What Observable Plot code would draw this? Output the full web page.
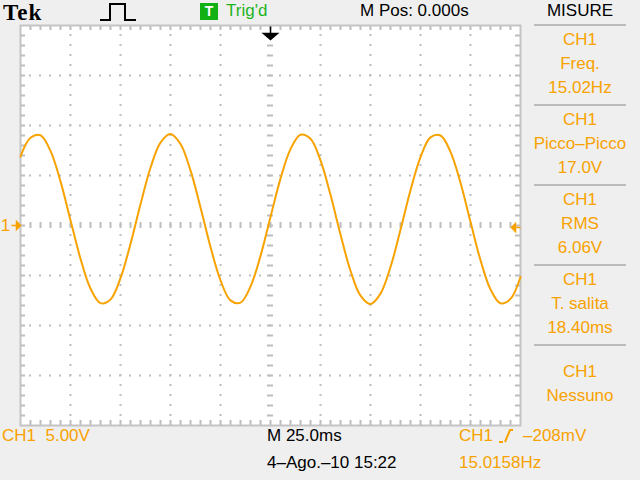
<!DOCTYPE html>
<html><head><meta charset="utf-8">
<script src="https://cdn.jsdelivr.net/npm/d3@7"></script>
<script src="https://cdn.jsdelivr.net/npm/@observablehq/plot@0.6"></script>
<style>
body{margin:0;background:#efefef;}
#wrap{position:relative;width:640px;height:480px;overflow:hidden;background:#efefef;font-family:"Liberation Sans",Arial,sans-serif;font-size:17px;color:#000;}
#wrap svg{position:absolute;left:0;top:0;}
.t{position:absolute;line-height:20px;white-space:pre;}
.o{color:#f8a200}
.c{left:520px;width:120px;text-align:center}
.sep{position:absolute;left:534px;width:92px;height:2px;background:#bcbcbc}
</style></head><body><div id="wrap"></div>
<script>
const timeMs = [-125,-120,-115,-110,-105,-100,-95,-90,-85,-80,-75,-70,-65,-60,-55,-50,-45,-40,-35,-30,-25,-20,-15,-10,-5,0,5,10,15,20,25,30,35,40,45,50,55,60,65,70,75,80,85,90,95,100,105,110,115,120,125];
const volts = [6.9,8.77,9.03,7.46,4.41,0.53,-3.32,-6.30,-7.76,-7.39,-5.26,-1.84,2.12,5.77,8.29,9.15,8.15,5.51,1.81,-2.14,-5.48,-7.49,-7.72,-6.11,-3.04,0.85,4.69,7.64,9.08,8.67,6.51,3.07,-0.90,-4.53,-7.02,-7.85,-6.81,-4.15,-0.43,3.52,6.84,8.81,9.00,7.37,4.27,0.37,-3.46,-6.39,-7.78,-7.34,-5.15];
const divTimes = [-100,-75,-50,-25,25,50,75,100];
const divVolts = [-15,-10,-5,5,10,15];
const triggerLevelV = -0.208;
const measures = [
  ["CH1","Freq.","15.02Hz"],
  ["CH1","Picco\u2013Picco","17.0V"],
  ["CH1","RMS","6.06V"],
  ["CH1","T. salita","18.40ms"],
  ["CH1","Nessuno"]
];
const headerTexts = {tek:"Tek", trig:"Trig'd", mpos:"M Pos: 0.000s", panel:"MISURE"};
const footerTexts = {ch:"CH1  5.00V", tb:"M 25.0ms", date:"4\u2013Ago.\u201310 15:22", trigCh:"CH1", trigLvl:"\u2013208mV", freq:"15.0158Hz"};

const orange = "#f8a200";
const gridCol = "#bdbdbd";
const trace = timeMs.map((t,i)=>({t, v: volts[i]}));
const minorT = d3.range(-120, 121, 5);
const minorV = d3.range(-19, 20, 1);

const downArrow = {draw(ctx){ctx.moveTo(0,0);ctx.lineTo(0,8);ctx.moveTo(-7,7);ctx.lineTo(7,7);ctx.lineTo(0,13);ctx.closePath();}};
const rightArrow = {draw(ctx){ctx.moveTo(-5,0);ctx.lineTo(0,0);ctx.moveTo(0,-4);ctx.lineTo(4,0);ctx.lineTo(0,4);ctx.closePath();}};
const leftArrow = {draw(ctx){ctx.moveTo(5,0);ctx.lineTo(0,0);ctx.moveTo(0,-4);ctx.lineTo(-4,0);ctx.lineTo(0,4);ctx.closePath();}};

const chart = Plot.plot({
  width: 640, height: 480,
  marginLeft: 20, marginRight: 120, marginTop: 25, marginBottom: 55,
  x: {domain: [-125, 125], axis: null},
  y: {domain: [-20, 20], axis: null},
  style: {background: "transparent", overflow: "visible"},
  marks: [
    Plot.frame({fill: "white", stroke: "none"}),
    Plot.ruleX(divTimes, {stroke: gridCol, strokeWidth: 2, strokeDasharray: "2,8", strokeDashoffset: 1}),
    Plot.ruleY(divVolts, {stroke: gridCol, strokeWidth: 2, strokeDasharray: "2,8", strokeDashoffset: 1}),
    // center cross ticks
    Plot.ruleX(minorT, {x: d=>d, y1: -0.3, y2: 0.3, stroke: gridCol, strokeWidth: 2}),
    Plot.ruleY(minorV, {y: d=>d, x1: -1.5, x2: 1.5, stroke: gridCol, strokeWidth: 2}),
    // border ticks
    Plot.ruleX(minorT, {x: d=>d, y1: 20, y2: 19.5, stroke: gridCol, strokeWidth: 2}),
    Plot.ruleX(minorT, {x: d=>d, y1: -20, y2: -19.5, stroke: gridCol, strokeWidth: 2}),
    Plot.ruleY(minorV, {y: d=>d, x1: -125, x2: -122.5, stroke: gridCol, strokeWidth: 2}),
    Plot.ruleY(minorV, {y: d=>d, x1: 125, x2: 122.5, stroke: gridCol, strokeWidth: 2}),
    Plot.frame({stroke: "#c4c4c4", strokeWidth: 2}),
    // waveform
    Plot.line(trace, {x: "t", y: "v", stroke: orange, strokeWidth: 2, curve: "catmull-rom"}),
    // markers
    Plot.dot([{t: 0, v: 19.9}], {x: "t", y: "v", symbol: downArrow, r: 5, fill: "black", stroke: "black", strokeWidth: 1.5}),
    Plot.dot([{t: -127, v: 0}], {x: "t", y: "v", symbol: rightArrow, r: 5, fill: orange, stroke: orange, strokeWidth: 1.5}),
    Plot.text([{t: -132.5, v: 0}], {x: "t", y: "v", text: () => "1", fill: orange, fontSize: 17, fontFamily: "Liberation Sans, Arial, sans-serif"}),
    Plot.dot([{t: 122.5, v: triggerLevelV}], {x: "t", y: "v", symbol: leftArrow, r: 5, fill: orange, stroke: orange, strokeWidth: 1.5})
  ]
});
const wrap = document.getElementById("wrap");
wrap.appendChild(chart);

function addText(txt, cls, left, top, extra){
  const d = document.createElement("div");
  d.className = "t " + (cls||"");
  d.textContent = txt;
  if (left !== null) d.style.left = left + "px";
  d.style.top = top + "px";
  if (extra) Object.assign(d.style, extra);
  wrap.appendChild(d);
  return d;
}
// header
addText(headerTexts.tek, "", 3, 0, {fontFamily: "'Liberation Serif','DejaVu Serif',serif", fontWeight: "bold", fontSize: "23px", lineHeight: "26px", letterSpacing: "1px"});
wrap.insertAdjacentHTML("beforeend", '<svg width="36" height="24" style="left:100px;top:0" ><polyline points="0,20 10,20 10,4 25,4 25,20 36,20" fill="none" stroke="#000" stroke-width="2"/></svg>');
wrap.insertAdjacentHTML("beforeend", '<div style="position:absolute;left:200px;top:3px;width:18px;height:17px;background:#12b012;color:#fff;font-weight:bold;font-size:14px;line-height:17px;text-align:center">T</div>');
addText(headerTexts.trig, "", 226, 1, {color: "#1eb41e"});
addText(headerTexts.mpos, "", 360, 1);
addText(headerTexts.panel, "c", null, 1);
// panel
[24,104,184,264,344].forEach(y => wrap.insertAdjacentHTML("beforeend", `<div class="sep" style="top:${y}px"></div>`));
measures.forEach((lines, b) => {
  const base = b < 4 ? 40 + 80*b : 372;
  lines.forEach((ln, i) => addText(ln, "o c", null, base + 24*i - 10));
});
// footer
addText(footerTexts.ch, "o", 2, 426);
addText(footerTexts.tb, "", 267, 426);
addText(footerTexts.date, "", 267, 453);
addText(footerTexts.trigCh, "o", 459, 426);
wrap.insertAdjacentHTML("beforeend", `<svg width="16" height="16" style="left:498px;top:428px"><polyline points="1,14 5,14" fill="none" stroke="${orange}" stroke-width="2"/><polyline points="7,14 12,2 15,2" fill="none" stroke="${orange}" stroke-width="2"/></svg>`);
addText(footerTexts.trigLvl, "o", 523, 426);
addText(footerTexts.freq, "o", 459, 453);
</script></body></html>
